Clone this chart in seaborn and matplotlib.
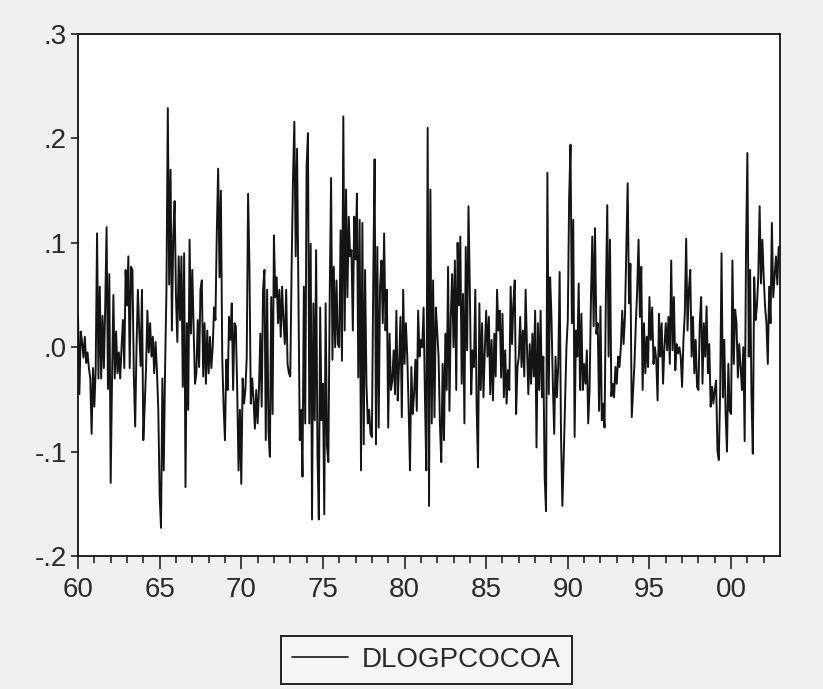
import numpy as np
import pandas as pd
import matplotlib
matplotlib.use("Agg")
import matplotlib.pyplot as plt
import seaborn as sns

# Monthly DLOGPCOCOA values, grouped by decade (Jan..Dec each year)
v1960s = [
    0.03, -0.045, 0.015, 0.005, -0.01, 0.01, -0.015, -0.005, -0.02, -0.03, -0.083, -0.02,
    -0.057, -0.02, 0.109, -0.03, 0.058, -0.03, 0.03, -0.02, 0.04, 0.115, -0.04, 0.07,
    -0.13, -0.03, 0.05, -0.03, 0.015, -0.025, -0.005, -0.03, 0.0, 0.026, -0.02, 0.074,
    0.04, 0.087, -0.02, 0.077, 0.074, -0.025, -0.076, 0.0, 0.055, 0.016, -0.018, 0.055,
    -0.089, -0.057, -0.02, 0.035, -0.005, 0.023, -0.009, 0.01, -0.025, 0.005, -0.022, -0.06,
    -0.142, -0.173, -0.03, -0.118, -0.02, 0.055, 0.229, 0.06, 0.17, 0.016, 0.106, 0.14,
    0.048, 0.005, 0.087, 0.026, 0.087, -0.038, 0.09, -0.134, 0.023, -0.06, 0.103, 0.013,
    0.074, 0.016, -0.035, -0.025, 0.026, -0.019, 0.055, 0.064, -0.028, 0.023, -0.035, 0.016,
    -0.025, 0.01, -0.02, 0.0, 0.038, 0.026, 0.109, 0.171, 0.067, 0.15, -0.009, -0.057,
    -0.089, -0.012, -0.041, 0.029, 0.007, 0.042, -0.041, 0.023, 0.02, -0.041, -0.118, -0.06,
]
v1970s = [
    -0.131, -0.03, -0.054, -0.041, -0.01, 0.147, 0.077, -0.054, -0.03, -0.05, -0.078, -0.041,
    -0.073, -0.04, 0.013, -0.057, 0.055, 0.074, -0.089, 0.055, -0.08, -0.105, 0.048, -0.064,
    0.107, 0.048, 0.067, 0.023, 0.055, 0.01, 0.058, 0.026, 0.003, 0.055, -0.016, -0.025,
    -0.028, 0.077, 0.16, 0.216, 0.087, 0.19, 0.048, -0.089, -0.06, -0.124, 0.058, -0.073,
    0.173, 0.205, -0.073, 0.099, -0.165, 0.042, -0.07, 0.093, -0.102, -0.165, 0.038, -0.07,
    -0.035, -0.16, 0.042, -0.095, -0.11, 0.048, 0.162, -0.012, 0.077, 0.0, 0.064, 0.003,
    0.0, 0.112, -0.013, 0.221, 0.016, 0.151, 0.048, 0.125, 0.087, 0.093, 0.016, 0.125,
    0.084, 0.147, -0.029, 0.122, -0.118, 0.119, -0.093, 0.074, -0.035, -0.073, -0.06, -0.083,
    -0.086, 0.064, 0.18, -0.093, 0.096, -0.077, 0.058, 0.083, 0.023, 0.109, 0.016, 0.055,
    -0.077, 0.013, -0.041, -0.032, -0.003, -0.045, 0.035, -0.051, -0.016, 0.029, -0.067, 0.055,
]
v1980s = [
    -0.016, 0.023, -0.009, -0.057, -0.118, -0.019, -0.064, -0.045, -0.012, -0.061, 0.035, -0.009,
    0.007, 0.0, 0.038, -0.048, -0.118, 0.21, -0.152, 0.151, -0.073, 0.064, -0.067, 0.038,
    0.016, -0.009, -0.073, -0.11, -0.016, -0.089, 0.013, -0.041, 0.077, -0.061, 0.029, 0.07,
    0.0, 0.083, -0.041, 0.1, 0.04, 0.106, -0.035, 0.051, -0.073, 0.096, -0.003, 0.135,
    0.055, -0.045, -0.003, -0.019, 0.055, -0.057, -0.115, 0.042, -0.041, 0.023, -0.048, -0.003,
    0.035, -0.009, 0.029, -0.045, 0.007, -0.051, 0.013, -0.028, 0.055, 0.016, 0.035, -0.029,
    0.032, -0.048, -0.003, -0.054, -0.022, -0.041, 0.058, 0.003, 0.042, 0.064, -0.064, -0.019,
    -0.009, 0.029, -0.019, 0.016, -0.028, 0.055, 0.0, -0.045, 0.003, -0.035, 0.013, -0.028,
    0.035, -0.096, 0.023, -0.041, 0.035, -0.048, -0.009, -0.125, -0.157, 0.167, -0.045, 0.067,
    0.029, -0.035, -0.083, -0.009, -0.048, -0.016, 0.072, -0.083, -0.152, -0.105, -0.051, 0.0,
]
v1990s = [
    0.026, 0.144, 0.194, 0.023, 0.122, -0.086, 0.016, -0.009, 0.061, -0.041, 0.032, -0.041,
    -0.016, -0.035, -0.003, -0.073, -0.041, 0.045, 0.106, 0.02, 0.114, 0.013, 0.023, -0.061,
    0.039, -0.07, -0.054, -0.077, 0.051, 0.136, -0.009, 0.103, -0.047, -0.035, -0.048, -0.019,
    -0.035, -0.009, -0.019, 0.0, 0.035, 0.003, 0.029, 0.093, 0.157, 0.042, 0.08, -0.067,
    -0.041, -0.016, 0.023, 0.055, 0.103, 0.029, 0.077, -0.041, 0.023, -0.025, 0.01, -0.019,
    0.048, 0.007, 0.038, -0.016, 0.0, -0.012, -0.051, 0.032, -0.009, 0.023, -0.035, 0.0,
    0.023, -0.003, 0.029, -0.016, 0.083, -0.003, 0.048, -0.022, 0.003, -0.006, 0.0, -0.009,
    -0.038, 0.007, 0.032, 0.104, 0.016, 0.055, 0.074, -0.009, 0.029, -0.025, 0.007, -0.038,
    -0.041, 0.023, 0.048, -0.035, 0.023, -0.009, 0.039, -0.025, 0.003, -0.057, -0.038, -0.054,
    -0.041, -0.032, -0.099, -0.108, -0.041, 0.09, -0.048, 0.007, -0.064, -0.1, -0.016, -0.061,
]
v2000s = [
    -0.064, 0.083, -0.016, 0.036, 0.023, -0.029, 0.003, -0.019, -0.041, 0.0, -0.09, 0.093,
    0.186, -0.009, 0.074, -0.047, -0.102, 0.067, 0.026, 0.039, 0.067, 0.135, 0.061, 0.103,
    0.067, 0.039, 0.023, -0.016, 0.058, 0.023, 0.119, 0.048, 0.067, 0.087, 0.06, 0.096,
]

series_name = "DLOGPCOCOA"
start_year = 1960
x_major = [1960, 1965, 1970, 1975, 1980, 1985, 1990, 1995, 2000]
x_labels = ["60", "65", "70", "75", "80", "85", "90", "95", "00"]
y_ticks = [-0.2, -0.1, 0.0, 0.1, 0.2, 0.3]
y_labels = ["-.2", "-.1", ".0", ".1", ".2", ".3"]

values = v1960s + v1970s + v1980s + v1990s + v2000s
t = start_year + np.arange(len(values)) / 12.0
df = pd.DataFrame({"t": t, "v": values})

sns.set_theme(style="white")
plt.rcParams["font.family"] = ["Liberation Sans", "DejaVu Sans"]

bg = "#f0f0f0"
fig = plt.figure(figsize=(8.23, 6.89), dpi=100, facecolor=bg)
ax = fig.add_axes([0.0948, 0.193, 0.853, 0.7577])
ax.set_facecolor("white")

sns.lineplot(data=df, x="t", y="v", ax=ax, color="#141414", linewidth=1.4,
             estimator=None, legend=False)

ax.set_xlim(1960, 2003)
ax.set_ylim(-0.2, 0.3)
ax.set_xlabel("")
ax.set_ylabel("")

ax.set_xticks(x_major)
ax.set_xticklabels(x_labels)
ax.set_xticks([y for y in range(1961, 2003) if y % 5 != 0], minor=True)
ax.set_yticks(y_ticks)
ax.set_yticklabels(y_labels)

fs = 20
ax.tick_params(axis="x", which="major", direction="out", length=9, width=1.2,
               colors="#222222", labelsize=fs, pad=6, bottom=True)
ax.tick_params(axis="x", which="minor", direction="out", length=5, width=1.2,
               colors="#222222", bottom=True)
ax.tick_params(axis="y", which="major", direction="out", length=5, width=1.2,
               colors="#222222", labelsize=fs, pad=3, left=True)
for lab in ax.get_xticklabels() + ax.get_yticklabels():
    lab.set_color("#2a2a2a")

for s in ax.spines.values():
    s.set_visible(True)
    s.set_color("#111111")
    s.set_linewidth(1.3)

handle = plt.Line2D([], [], color="#1a1a1a", linewidth=1.2)
leg = fig.legend([handle], [series_name], loc="center",
                 bbox_to_anchor=(0.518, 0.042), fontsize=fs, frameon=True,
                 fancybox=False, edgecolor="#111111", facecolor="#f6f6f6",
                 framealpha=1.0, handlelength=2.0, handletextpad=0.5,
                 borderpad=0.4, borderaxespad=0)
leg.get_frame().set_linewidth(1.3)
for txt in leg.get_texts():
    txt.set_color("#2a2a2a")

fig.savefig("out.png", dpi=100, facecolor=bg)
